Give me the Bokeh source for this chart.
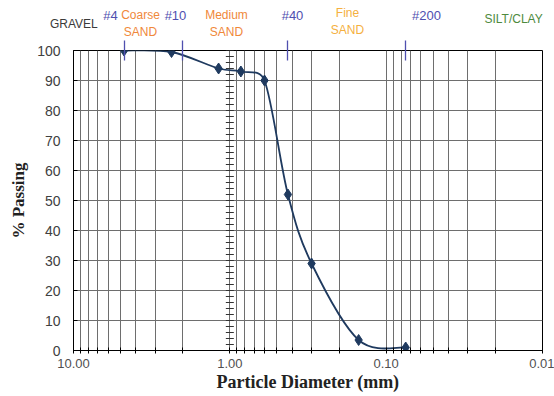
import math
from bokeh.plotting import figure
from bokeh.models import Range1d, FixedTicker, PrintfTickFormatter, LogAxis
from bokeh.embed import file_html
from bokeh.resources import INLINE

# ---- data ----
diam = [4.75, 2.36, 1.18, 0.85, 0.60, 0.425, 0.30, 0.15, 0.075]
passing = [100, 99.5, 94, 93, 90, 52, 29, 3.5, 1]
x_major = [10, 1, 0.1, 0.01]
y_ticks = [0, 10, 20, 30, 40, 50, 60, 70, 80, 90, 100]
sieve_sizes = [4.75, 2.0, 0.425, 0.075]
sieve_names = ["#4", "#10", "#40", "#200"]

# soil-zone captions shown above the chart
sand_names = ["Coarse\nSAND", "Medium\nSAND"]
fine_names = ["Fine\nSAND"]
silt_names = ["SILT/CLAY"]
gravel_names = ["GRAVEL"]

# caption anchor positions (particle diameter, mm) -- layout, not data
sieve_label_at = [5.80, 2.227, 0.3973, 0.05521]
sand_label_at = [3.728, 1.050]
fine_label_at = [0.1768]
silt_label_at = [0.01531]
gravel_label_at = [9.95]

x_minor = [m * 10.0 ** k for k in (-2, -1, 0) for m in range(2, 10)]

NAVY = "#1F3A5F"
GRID = "#6E6E6E"
BLUE = "#4F4FAF"
PX_DEC = 469 / 3.0   # screen pixels per decade
PX_UNIT = 3.0        # screen pixels per % unit

p = figure(width=554, height=396, frame_width=469, frame_height=300,
           x_axis_type="log", x_range=Range1d(10, 0.01), y_range=Range1d(0, 100),
           output_backend="svg", toolbar_location=None,
           min_border_left=73, min_border_right=12, min_border_top=50, min_border_bottom=46)
p.background_fill_color = "white"
p.border_fill_color = "white"
p.outline_line_color = "black"
p.outline_line_width = 1

xt = FixedTicker(ticks=x_major, minor_ticks=x_minor)
p.xaxis.ticker = xt
p.xgrid.ticker = xt
p.xaxis.formatter = PrintfTickFormatter(format="%.2f")
p.yaxis.ticker = FixedTicker(ticks=y_ticks)

p.xgrid.grid_line_color = GRID
p.xgrid.minor_grid_line_color = GRID
p.ygrid.grid_line_color = GRID

for ax in (p.xaxis[0], p.yaxis[0]):
    ax.axis_line_color = "black"
    ax.major_tick_line_color = "black"
    ax.minor_tick_line_color = "black"
    ax.major_label_text_font = "Liberation Sans"

p.xaxis.major_tick_in = 3
p.xaxis.major_tick_out = 3
p.xaxis.minor_tick_in = 3
p.xaxis.minor_tick_out = 3
p.xaxis.major_label_standoff = 5
p.xaxis.major_label_text_font_size = "13px"
p.xaxis.major_label_text_color = "#505050"
p.xaxis.axis_label = "Particle Diameter (mm)"
p.xaxis.axis_label_text_font = "Liberation Serif"
p.xaxis.axis_label_text_font_style = "bold"
p.xaxis.axis_label_text_font_size = "18px"
p.xaxis.axis_label_text_color = "#222222"
p.xaxis.axis_label_standoff = 1

p.yaxis.major_tick_in = 4
p.yaxis.major_tick_out = 0
p.yaxis.minor_tick_line_color = None
p.yaxis.major_label_standoff = 13
p.yaxis.major_label_text_font_size = "14px"
p.yaxis.major_label_text_color = "#404040"
p.yaxis.axis_label = "% Passing"
p.yaxis.axis_label_text_font = "Liberation Serif"
p.yaxis.axis_label_text_font_style = "bold"
p.yaxis.axis_label_text_font_size = "17px"
p.yaxis.axis_label_text_color = "#222222"
p.yaxis.axis_label_standoff = 6


def top_axis(ticks, labels, color, size, standoff, tick_color=None, tick_len=0):
    ticks = [round(t, 5) for t in ticks]
    ax = LogAxis(ticker=FixedTicker(ticks=ticks, minor_ticks=[]),
                 major_label_overrides=dict(zip(ticks, labels)),
                 axis_line_color=None, minor_tick_line_color=None,
                 major_tick_line_color=tick_color, major_tick_line_width=1.3,
                 major_tick_in=tick_len, major_tick_out=tick_len,
                 minor_tick_in=0, minor_tick_out=0,
                 major_label_standoff=standoff,
                 major_label_text_color=color, major_label_text_font="Liberation Sans",
                 major_label_text_font_size=size, major_label_text_line_height=1.2)
    p.add_layout(ax, "above")
    return ax


# stacked from the frame upward: sieve marks, GRAVEL, SILT/CLAY, sieve numbers, sand zones
top_axis(sieve_sizes, [""] * len(sieve_sizes), BLUE, "0px", 0, tick_color=BLUE, tick_len=10)
top_axis(gravel_label_at, gravel_names, "#3A3A3A", "12px", 10)
top_axis(silt_label_at, silt_names, "#4E8A3E", "12px", -12)
top_axis(sieve_label_at, sieve_names, BLUE, "13px", -14)
top_axis(sand_label_at, sand_names, "#F0883A", "12px", -34)
top_axis(fine_label_at, fine_names, "#F5B041", "12px", -32)

# tick marks along the vertical line at 1.00
tick_y = list(range(0, 101, 2))
f = 10 ** (4 / PX_DEC)
p.segment(x0=[1 * f] * len(tick_y), x1=[1 / f] * len(tick_y), y0=tick_y, y1=tick_y,
          line_color="#333333", line_width=1)

# smooth curve (Bezier through the points, arms limited like a spreadsheet smoother)
u = [math.log10(d) * PX_DEC for d in diam]
v = [y * PX_UNIT for y in passing]
n = len(u)


def arm(i, j_prev, j_next, k):
    tx = (u[j_next] - u[j_prev]) / 6.0
    ty = (v[j_next] - v[j_prev]) / 6.0
    L = math.hypot(tx, ty)
    seg = math.hypot(u[k] - u[i], v[k] - v[i])
    if L > 0 and L > 0.5 * seg:
        s = 0.5 * seg / L
        tx *= s
        ty *= s
    return tx, ty


x0, y0, x1, y1, cx0, cy0, cx1, cy1 = [], [], [], [], [], [], [], []
for i in range(n - 1):
    a = max(i - 1, 0)
    b = min(i + 2, n - 1)
    t0x, t0y = arm(i, a, i + 1, i + 1)
    t1x, t1y = arm(i + 1, i, b, i)
    x0.append(diam[i]); y0.append(passing[i])
    x1.append(diam[i + 1]); y1.append(passing[i + 1])
    cx0.append(10 ** ((u[i] + t0x) / PX_DEC)); cy0.append((v[i] + t0y) / PX_UNIT)
    cx1.append(10 ** ((u[i + 1] - t1x) / PX_DEC)); cy1.append((v[i + 1] - t1y) / PX_UNIT)
p.bezier(x0=x0, y0=y0, x1=x1, y1=y1, cx0=cx0, cy0=cy0, cx1=cx1, cy1=cy1,
         line_color=NAVY, line_width=1.8)
p.scatter(diam, passing, marker="diamond", size=11, fill_color=NAVY, line_color=NAVY)

open("out.html", "w").write(file_html(p, INLINE))
